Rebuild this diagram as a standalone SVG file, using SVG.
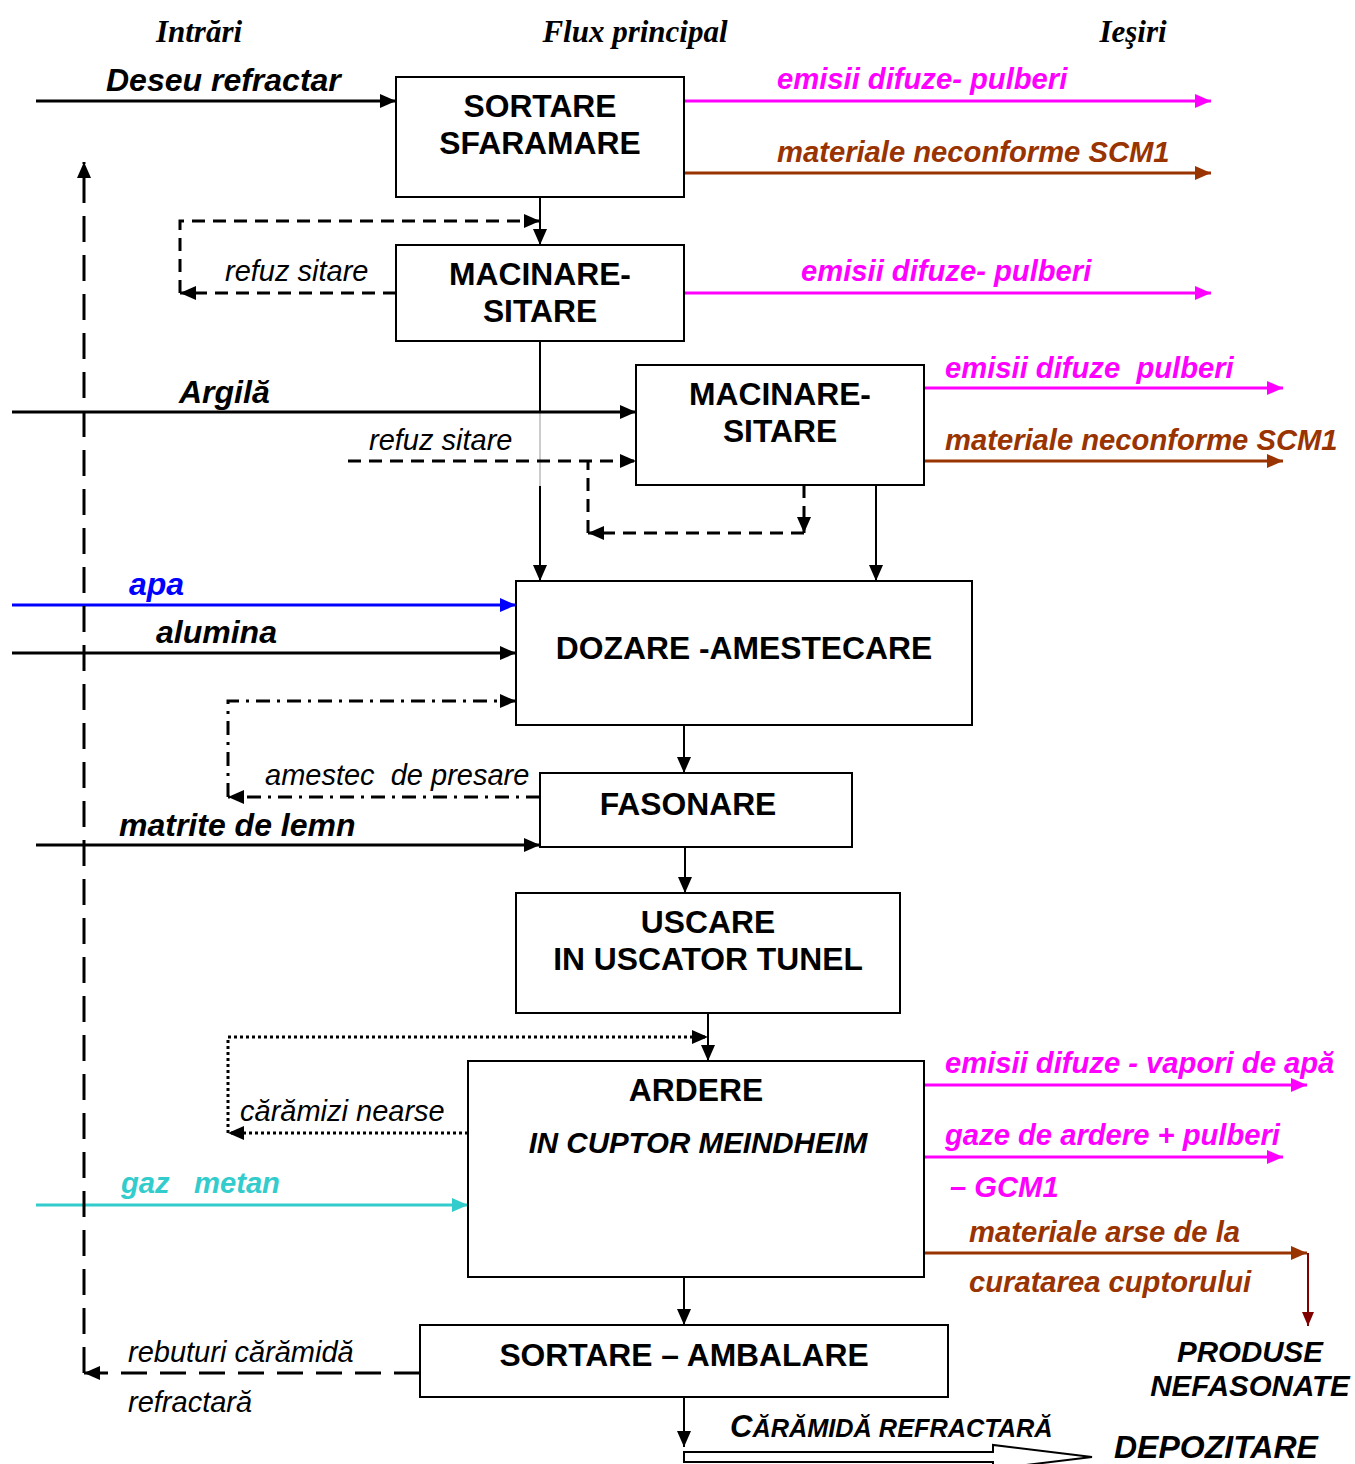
<svg xmlns="http://www.w3.org/2000/svg" width="1355" height="1464" viewBox="0 0 1355 1464">
  <style>
    text { font-family: "Liberation Sans", Arial, sans-serif; white-space: pre; }
    .hdr { font-family: "Liberation Serif", "Times New Roman", serif; font-weight: bold; font-style: italic; font-size: 31px; }
    .box { fill: #fff; stroke: #000; stroke-width: 2; }
    .btxt { font-weight: bold; font-size: 31.8px; text-anchor: middle; fill: #000; }
    .in { font-weight: bold; font-style: italic; font-size: 32px; fill: #000; }
    .out { font-weight: bold; font-style: italic; font-size: 29.2px; }
    .note { font-style: italic; font-size: 29px; fill: #000; }
    .mag { fill: #FF00FF; }
    .brn { fill: #993300; }
    .flow { fill: none; stroke: #000; stroke-width: 2; }
    .feed { fill: none; stroke: #000; stroke-width: 3; }
    .dash { fill: none; stroke: #000; stroke-width: 3; stroke-dasharray: 13 8; }
    .longdash { fill: none; stroke: #000; stroke-width: 3; stroke-dasharray: 26 13; }
    .dashdot { fill: none; stroke: #000; stroke-width: 3; stroke-dasharray: 14 7 3 7; }
    .dot { fill: none; stroke: #000; stroke-width: 3; stroke-dasharray: 3 3; }
  </style>
  <defs>
    <marker id="ak" markerUnits="userSpaceOnUse" markerWidth="16" markerHeight="14" refX="16" refY="7" orient="auto">
      <path d="M0,0 L16,7 L0,14 z" fill="#000"/>
    </marker>
    <marker id="am" markerUnits="userSpaceOnUse" markerWidth="16" markerHeight="14" refX="16" refY="7" orient="auto">
      <path d="M0,0 L16,7 L0,14 z" fill="#FF00FF"/>
    </marker>
    <marker id="ab" markerUnits="userSpaceOnUse" markerWidth="16" markerHeight="14" refX="16" refY="7" orient="auto">
      <path d="M0,0 L16,7 L0,14 z" fill="#993300"/>
    </marker>
    <marker id="au" markerUnits="userSpaceOnUse" markerWidth="16" markerHeight="14" refX="16" refY="7" orient="auto">
      <path d="M0,0 L16,7 L0,14 z" fill="#0000FF"/>
    </marker>
    <marker id="ac" markerUnits="userSpaceOnUse" markerWidth="16" markerHeight="14" refX="16" refY="7" orient="auto">
      <path d="M0,0 L16,7 L0,14 z" fill="#33CCCC"/>
    </marker>
    <marker id="ar" markerUnits="userSpaceOnUse" markerWidth="14" markerHeight="12" refX="14" refY="6" orient="auto">
      <path d="M0,0 L14,6 L0,12 z" fill="#800000"/>
    </marker>
  </defs>

  <!-- column headings -->
  <text class="hdr" x="199" y="42" text-anchor="middle">Intrări</text>
  <text class="hdr" x="635" y="42" text-anchor="middle">Flux principal</text>
  <text class="hdr" x="1133" y="42" text-anchor="middle">Ieşiri</text>

  <!-- connectors -->
  <g id="connectors">
    <!-- main flow -->
    <line class="flow" x1="540" y1="197" x2="540" y2="245" marker-end="url(#ak)"/>
    <line class="flow" x1="540" y1="341" x2="540" y2="412"/>
    <line x1="540" y1="412" x2="540" y2="486" stroke="#999" stroke-width="1"/>
    <line class="flow" x1="540" y1="486" x2="540" y2="581" marker-end="url(#ak)"/>
    <line class="flow" x1="876" y1="485" x2="876" y2="581" marker-end="url(#ak)"/>
    <line class="flow" x1="684" y1="725" x2="684" y2="773" marker-end="url(#ak)"/>
    <line class="flow" x1="685" y1="847" x2="685" y2="893" marker-end="url(#ak)"/>
    <line class="flow" x1="708" y1="1013" x2="708" y2="1061" marker-end="url(#ak)"/>
    <line class="flow" x1="684" y1="1277" x2="684" y2="1325" marker-end="url(#ak)"/>
    <line class="flow" x1="684" y1="1397" x2="684" y2="1447" marker-end="url(#ak)"/>

    <!-- inputs -->
    <line class="feed" x1="36" y1="101" x2="396" y2="101" marker-end="url(#ak)"/>
    <line class="feed" x1="12" y1="412" x2="636" y2="412" marker-end="url(#ak)"/>
    <line x1="12" y1="605" x2="516" y2="605" stroke="#0000FF" stroke-width="3" marker-end="url(#au)"/>
    <line class="feed" x1="12" y1="653" x2="516" y2="653" marker-end="url(#ak)"/>
    <line class="feed" x1="36" y1="845" x2="540" y2="845" marker-end="url(#ak)"/>
    <line x1="36" y1="1205" x2="468" y2="1205" stroke="#33CCCC" stroke-width="3" marker-end="url(#ac)"/>

    <!-- outputs -->
    <line x1="684" y1="101" x2="1211" y2="101" stroke="#FF00FF" stroke-width="3" marker-end="url(#am)"/>
    <line x1="684" y1="173" x2="1211" y2="173" stroke="#993300" stroke-width="3" marker-end="url(#ab)"/>
    <line x1="684" y1="293" x2="1211" y2="293" stroke="#FF00FF" stroke-width="3" marker-end="url(#am)"/>
    <line x1="924" y1="388" x2="1283" y2="388" stroke="#FF00FF" stroke-width="3" marker-end="url(#am)"/>
    <line x1="924" y1="461" x2="1283" y2="461" stroke="#993300" stroke-width="3" marker-end="url(#ab)"/>
    <line x1="924" y1="1085" x2="1307" y2="1085" stroke="#FF00FF" stroke-width="3" marker-end="url(#am)"/>
    <line x1="924" y1="1157" x2="1283" y2="1157" stroke="#FF00FF" stroke-width="3" marker-end="url(#am)"/>
    <line x1="924" y1="1253" x2="1307" y2="1253" stroke="#993300" stroke-width="3" marker-end="url(#ab)"/>
    <line x1="1308" y1="1253" x2="1308" y2="1326" stroke="#800000" stroke-width="2" marker-end="url(#ar)"/>

    <!-- recycle loops -->
    <line class="dash" x1="396" y1="293" x2="180" y2="293" marker-end="url(#ak)"/>
    <polyline class="dash" points="180,293 180,221 540,221" marker-end="url(#ak)"/>
    <line class="dash" x1="348" y1="461" x2="636" y2="461" marker-end="url(#ak)"/>
    <line class="dash" x1="804" y1="485" x2="804" y2="533" marker-end="url(#ak)"/>
    <line class="dash" x1="804" y1="533" x2="588" y2="533" marker-end="url(#ak)"/>
    <line class="dash" x1="588" y1="533" x2="588" y2="461"/>
    <line class="dashdot" x1="540" y1="797" x2="228" y2="797" marker-end="url(#ak)"/>
    <polyline class="dashdot" points="228,797 228,701 516,701" marker-end="url(#ak)"/>
    <line class="dot" x1="468" y1="1133" x2="228" y2="1133" marker-end="url(#ak)"/>
    <polyline class="dot" points="228,1133 228,1037 708,1037" marker-end="url(#ak)"/>
    <line class="longdash" x1="420" y1="1373" x2="84" y2="1373" marker-end="url(#ak)"/>
    <line class="longdash" x1="84" y1="1373" x2="84" y2="162" marker-end="url(#ak)"/>

    <!-- storage block arrow -->
    <polygon points="684,1452 993,1452 993,1445 1092,1457 993,1469 993,1462 684,1462" fill="#fff" stroke="#000" stroke-width="2"/>
  </g>

  <!-- connector labels -->
  <g id="labels">
    <text class="in" x="106" y="91">Deseu refractar</text>
    <text class="in" x="179" y="403">Argilă</text>
    <text class="in" x="129" y="595" style="fill:#0000FF">apa</text>
    <text class="in" x="156" y="643">alumina</text>
    <text class="in" x="119" y="836">matrite de lemn</text>
    <text class="out" x="121" y="1193" style="fill:#33CCCC" xml:space="preserve">gaz   metan</text>

    <text class="out mag" x="777" y="89">emisii difuze- pulberi</text>
    <text class="out brn" x="777" y="162">materiale neconforme SCM1</text>
    <text class="out mag" x="801" y="281">emisii difuze- pulberi</text>
    <text class="out mag" x="945" y="378" xml:space="preserve">emisii difuze  pulberi</text>
    <text class="out brn" x="945" y="450">materiale neconforme SCM1</text>
    <text class="out mag" x="945" y="1073">emisii difuze - vapori de apă</text>
    <text class="out mag" x="945" y="1145">gaze de ardere + pulberi</text>
    <text class="out mag" x="950" y="1197">– GCM1</text>
    <text class="out brn" x="969" y="1242">materiale arse de la</text>
    <text class="out brn" x="969" y="1292">curatarea cuptorului</text>

    <text class="note" x="225" y="281">refuz sitare</text>
    <text class="note" x="369" y="450">refuz sitare</text>
    <text class="note" x="265" y="785" xml:space="preserve">amestec  de presare</text>
    <text class="note" x="240" y="1121">cărămizi nearse</text>
    <text class="note" x="128" y="1362">rebuturi cărămidă</text>
    <text class="note" x="128" y="1412">refractară</text>

    <text class="out" x="1250" y="1362" text-anchor="middle" style="font-size:29.5px">PRODUSE</text>
    <text class="out" x="1250" y="1396" text-anchor="middle" style="font-size:29.5px">NEFASONATE</text>
    <text class="out" x="730" y="1437"><tspan font-size="31">C</tspan><tspan font-size="25.3">ĂRĂMIDĂ REFRACTARĂ</tspan></text>
    <text class="in" x="1114" y="1458">DEPOZITARE</text>
  </g>

  <!-- process steps -->
  <g id="sortare-sfaramare">
    <rect class="box" x="396" y="77" width="288" height="120"/>
    <text class="btxt" x="540" y="117">SORTARE</text>
    <text class="btxt" x="540" y="154">SFARAMARE</text>
  </g>
  <g id="macinare-sitare-1">
    <rect class="box" x="396" y="245" width="288" height="96"/>
    <text class="btxt" x="540" y="285">MACINARE-</text>
    <text class="btxt" x="540" y="322">SITARE</text>
  </g>
  <g id="macinare-sitare-2">
    <rect class="box" x="636" y="365" width="288" height="120"/>
    <text class="btxt" x="780" y="405">MACINARE-</text>
    <text class="btxt" x="780" y="442">SITARE</text>
  </g>
  <g id="dozare-amestecare">
    <rect class="box" x="516" y="581" width="456" height="144"/>
    <text class="btxt" x="744" y="659">DOZARE -AMESTECARE</text>
  </g>
  <g id="fasonare">
    <rect class="box" x="540" y="773" width="312" height="74"/>
    <text class="btxt" x="688" y="815">FASONARE</text>
  </g>
  <g id="uscare">
    <rect class="box" x="516" y="893" width="384" height="120"/>
    <text class="btxt" x="708" y="933">USCARE</text>
    <text class="btxt" x="708" y="970">IN USCATOR TUNEL</text>
  </g>
  <g id="ardere">
    <rect class="box" x="468" y="1061" width="456" height="216"/>
    <text class="btxt" x="696" y="1101">ARDERE</text>
    <text class="btxt" x="698" y="1153" style="font-style:italic;font-size:29.5px">IN CUPTOR MEINDHEIM</text>
  </g>
  <g id="sortare-ambalare">
    <rect class="box" x="420" y="1325" width="528" height="72"/>
    <text class="btxt" x="684" y="1366">SORTARE – AMBALARE</text>
  </g>
</svg>
